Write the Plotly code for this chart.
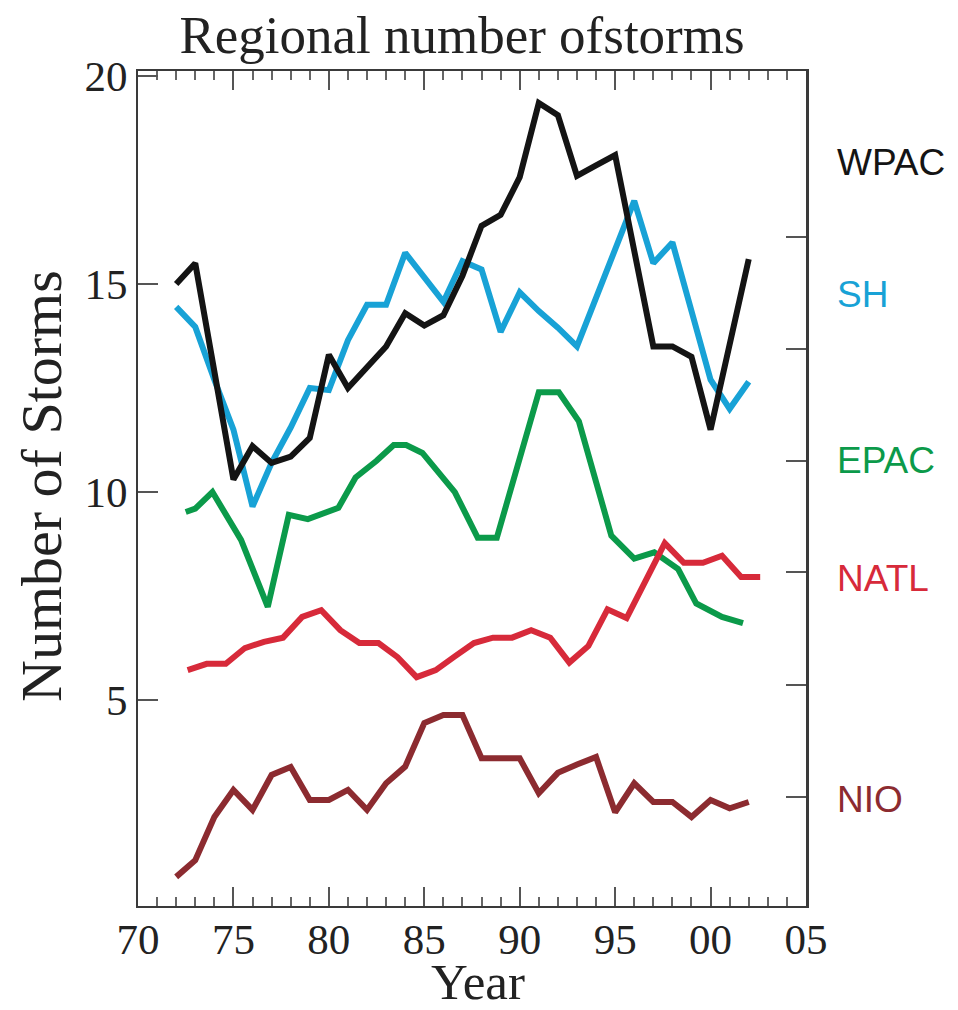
import plotly.graph_objects as go

# ---- data ----
YEARS = list(range(72, 103))  # 1972..2002 (axis in 2-digit years, 100 = 2000)

WPAC = [15.0, 15.5, 12.9, 10.3, 11.1, 10.7, 10.85, 11.3, 13.3, 12.5,
        13.0, 13.5, 14.3, 14.0, 14.25, 15.2, 16.4, 16.66, 17.57, 19.35,
        19.06, 17.6, 17.85, 18.1, 15.8, 13.5, 13.5, 13.25, 11.5, 13.55, 15.6]

SH = [14.45, 13.97, 12.7, 11.5, 9.65, 10.7, 11.55, 12.5, 12.45, 13.65,
      14.5, 14.5, 15.75, 15.15, 14.57, 15.55, 15.35, 13.85, 14.8, 14.35,
      13.95, 13.5, 14.7, 15.9, 17.0, 15.5, 16.0, 14.35, 12.7, 12.0, 12.65]

EPAC_YEARS = [72.5, 73.0, 73.9, 75.4, 76.8, 77.9, 78.9, 80.5, 81.4, 82.5,
              83.4, 84.05, 84.9, 86.6, 87.8, 88.8, 91.0, 92.05, 93.1, 94.8,
              96.0, 97.05, 98.3, 99.25, 100.6, 101.7]
EPAC = [9.52, 9.6, 10.0, 8.85, 7.24, 9.45, 9.35, 9.62, 10.35, 10.75,
        11.13, 11.13, 10.94, 10.0, 8.9, 8.9, 12.4, 12.4, 11.7, 8.95,
        8.4, 8.55, 8.15, 7.32, 7.0, 6.85]

NATL_YEARS = [y + 0.6 for y in range(72, 103)]
NATL = [5.72, 5.87, 5.87, 6.25, 6.4, 6.5, 7.0, 7.16, 6.68, 6.37,
        6.37, 6.03, 5.55, 5.72, 6.05, 6.37, 6.5, 6.5, 6.68, 6.5,
        5.9, 6.3, 7.18, 6.97, 7.87, 8.77, 8.3, 8.3, 8.47, 7.96, 7.96]

NIO = [0.75, 1.15, 2.19, 2.84, 2.36, 3.2, 3.39, 2.6, 2.6, 2.84,
       2.36, 3.0, 3.4, 4.45, 4.64, 4.64, 3.6, 3.6, 3.6, 2.76,
       3.25, 3.45, 3.63, 2.3, 3.0, 2.55, 2.55, 2.19, 2.6, 2.4, 2.55]

REGIONS = ["WPAC", "SH", "EPAC", "NATL", "NIO"]
COLORS = {"WPAC": "#141414", "SH": "#18a2d6", "EPAC": "#0b9a4a",
          "NATL": "#d72a3a", "NIO": "#8c2b30"}
LABEL_Y = {"WPAC": 17.93, "SH": 14.74, "EPAC": 10.77, "NATL": 7.93, "NIO": 2.6}

X_TICKVALS = [70, 75, 80, 85, 90, 95, 100, 105]
X_TICKTEXT = ["70", "75", "80", "85", "90", "95", "00", "05"]
Y_TICKVALS = [5, 10, 15, 20]
Y_TICKTEXT = ["5", "10", "15", "20"]
RIGHT_TICKVALS = [2.67, 5.36, 8.08, 10.75, 13.44, 16.13]

SERIES = {
    "WPAC": (YEARS, WPAC),
    "SH": (YEARS, SH),
    "EPAC": (EPAC_YEARS, EPAC),
    "NATL": (NATL_YEARS, NATL),
    "NIO": (YEARS, NIO),
}

Y_RANGE = [0.05, 20.12]
X_RANGE = [70, 105]
SERIF = "Liberation Serif, Times New Roman, serif"
SANS = "Liberation Sans, Arial, sans-serif"
AXIS_COLOR = "#3a3a3a"
TEXT_COLOR = "#222"

W, H = 958, 1010
ML, MR, MT, MB = 138, 152, 71, 104
PW, PH = W - ML - MR, H - MT - MB

fig = go.Figure()
for name in ["EPAC", "NATL", "NIO", "WPAC", "SH"]:
    xs, ys = SERIES[name]
    # all series share the same value scale; the right axis (y2) has the same range
    fig.add_trace(go.Scatter(x=xs, y=ys, mode="lines", name=name,
                             yaxis="y2" if name == "WPAC" else "y",
                             line=dict(color=COLORS[name], width=6),
                             showlegend=False, cliponaxis=False))

for name in REGIONS:
    fig.add_annotation(x=1.0 + 29 / PW, xref="paper",
                       y=LABEL_Y[name], yref="y",
                       text=name, showarrow=False, xanchor="left",
                       yanchor="middle",
                       font=dict(family=SANS, size=37, color=COLORS[name]))

# axis titles
fig.add_annotation(x=(42 - ML) / PW, xref="paper", y=0.503, yref="paper",
                   text="Number of Storms", textangle=-90, showarrow=False,
                   xanchor="center", yanchor="middle",
                   font=dict(family=SERIF, size=58, color=TEXT_COLOR))
fig.add_annotation(x=(478 - ML) / PW, xref="paper", y=-(982 - (H - MB)) / PH,
                   yref="paper", text="Year", showarrow=False,
                   xanchor="center", yanchor="middle", borderpad=0,
                   font=dict(family=SERIF, size=51, color=TEXT_COLOR))

fig.update_layout(
    width=W, height=H,
    margin=dict(l=ML, r=MR, t=MT, b=MB, autoexpand=False),
    paper_bgcolor="white", plot_bgcolor="white",
    title=dict(text="Regional number ofstorms", x=462 / W, xref="container",
               xanchor="center", y=1 - 34 / H, yref="container",
               yanchor="middle",
               font=dict(family=SERIF, size=53, color=TEXT_COLOR)),
    xaxis=dict(range=X_RANGE, tickvals=X_TICKVALS, ticktext=X_TICKTEXT,
               ticks="inside", ticklen=19, tickwidth=2, tickcolor="#555",
               showline=True, linecolor=AXIS_COLOR, linewidth=2,
               mirror="ticks", showgrid=False, zeroline=False,
               automargin=False, ticklabelstandoff=-6,
               tickfont=dict(family=SERIF, size=43, color=TEXT_COLOR),
               minor=dict(dtick=1, tick0=70, ticks="inside", ticklen=9,
                          tickwidth=1.5, tickcolor="#666", showgrid=False)),
    yaxis=dict(range=Y_RANGE, tickvals=Y_TICKVALS, ticktext=Y_TICKTEXT,
               ticks="inside", ticklen=20, tickwidth=2, tickcolor="#555",
               showline=True, linecolor=AXIS_COLOR, linewidth=2,
               showgrid=False, zeroline=False, automargin=False,
               tickfont=dict(family=SERIF, size=43, color=TEXT_COLOR)),
    yaxis2=dict(range=Y_RANGE, overlaying="y", side="right", anchor="x",
                tickvals=RIGHT_TICKVALS, showticklabels=False,
                ticks="inside", ticklen=20, tickwidth=2, tickcolor="#555",
                showline=True, linecolor=AXIS_COLOR, linewidth=3,
                showgrid=False, zeroline=False, automargin=False),
)

# remove the browser's default page margin so the figure fills the window
fig.write_html("out.html",
               config={"displayModeBar": False},
               post_script="document.body.style.margin='0';")
